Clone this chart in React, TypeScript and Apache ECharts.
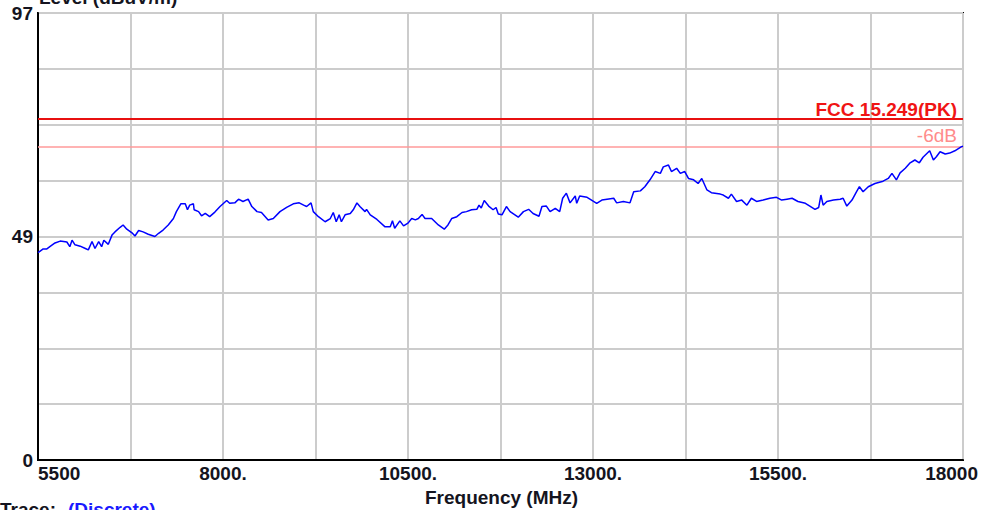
import React, { useEffect, useRef } from "react";
import * as echarts from "echarts";

const F_START = 5500;
const F_STOP = 18000;
const X_STEP = 1250;
const Y_MAX = 97;
const Y_STEP = 12.125;

const FREQ_MHZ = [
  5500, 5520, 5570, 5620, 5660, 5730, 5800, 5890, 5930, 5960,
  6000, 6070, 6140, 6180, 6230, 6270, 6320, 6360, 6390, 6450,
  6500, 6540, 6610, 6650, 6700, 6770, 6810, 6860, 6920, 6990,
  7080, 7130, 7190, 7260, 7330, 7370, 7430, 7490, 7520, 7550,
  7600, 7610, 7670, 7710, 7760, 7820, 7890, 7960, 8050, 8090,
  8160, 8210, 8270, 8340, 8390, 8460, 8520, 8610,
  8680, 8770, 8860, 8950, 9030, 9090, 9130, 9190, 9220, 9290,
  9380, 9450, 9490, 9530, 9570, 9600, 9650, 9720, 9760, 9810,
  9850, 9920, 9940, 9990, 10080, 10190, 10260, 10290, 10320, 10390,
  10440, 10500, 10550, 10600, 10640, 10690, 10730, 10820, 10910, 10990,
  11040, 11090, 11160, 11230, 11290, 11360, 11430, 11460, 11490, 11530,
  11590, 11650, 11690, 11720,
  11770, 11830, 11880, 11990, 12060, 12130, 12190, 12270, 12310, 12370,
  12420, 12490, 12550, 12590, 12640, 12690, 12760, 12780, 12820, 12920,
  12980, 13050, 13120, 13190, 13280, 13320, 13410, 13500, 13550, 13640,
  13700, 13770, 13840, 13910, 13950, 14020, 14060, 14130, 14180, 14240,
  14290, 14360, 14420, 14470, 14540, 14600, 14720, 14760, 14830,
  14870, 14940, 15010, 15080, 15140, 15210, 15300, 15390, 15480, 15550,
  15620, 15690, 15770, 15870, 15930, 16000, 16050, 16080, 16110, 16160,
  16250, 16340, 16380, 16430, 16500, 16560, 16600, 16650, 16720, 16810,
  16920, 16990, 17040, 17100, 17150, 17220, 17280, 17350, 17410, 17460,
  17550, 17600, 17640, 17690, 17760, 17820, 17890, 17980, 18000,
];

const LEVEL_DBUV = [
  45.0, 45.2, 45.8, 45.8, 46.3, 47.1, 47.5, 47.3, 46.3, 47.7,
  46.7, 46.4, 45.9, 45.6, 47.4, 45.9, 47.4, 46.3, 47.7, 46.8,
  48.8, 49.5, 50.5, 51.0, 50.1, 49.3, 48.6, 49.8, 49.5, 49.0,
  48.5, 49.2, 49.9, 51.0, 52.4, 53.9, 55.6, 55.6, 54.3, 55.3,
  55.6, 54.3, 53.9, 53.0, 53.5, 52.8, 53.8, 55.0, 56.3, 55.7,
  55.8, 56.6, 56.1, 56.6, 55.0, 53.9, 53.7, 52.1,
  52.4, 53.9, 54.8, 55.6, 55.8, 55.3, 55.0, 55.8, 53.9, 52.8,
  51.7, 52.4, 53.7, 51.7, 53.2, 51.7, 53.2, 53.5, 54.3, 55.8,
  55.0, 53.9, 54.4, 53.2, 52.2, 50.6, 50.6, 51.9, 50.3, 51.9,
  50.8, 51.4, 52.4, 52.1, 52.4, 53.3, 52.4, 52.4, 51.0, 50.1,
  51.0, 52.4, 52.8, 53.7, 53.9, 54.3, 54.4, 55.3, 54.7, 56.3,
  55.1, 54.3, 54.8, 53.4,
  53.2, 55.0, 53.9, 52.7, 53.9, 54.4, 53.5, 52.9, 55.0, 55.1,
  53.9, 54.6, 53.9, 56.8, 57.9, 55.8, 57.3, 55.7, 57.3, 57.0,
  56.4, 55.7, 56.4, 56.6, 56.8, 55.8, 56.1, 55.8, 58.2, 58.4,
  59.3, 60.8, 62.6, 62.2, 63.6, 64.0, 62.6, 63.3, 62.2, 62.6,
  61.1, 60.8, 60.0, 61.1, 58.6, 58.0, 57.7, 57.5, 56.8,
  57.7, 56.1, 56.4, 55.3, 56.8, 56.1, 56.4, 56.8, 57.0, 56.4,
  56.6, 56.8, 56.1, 55.7, 55.1, 54.4, 54.8, 57.5, 55.3, 56.1,
  56.4, 56.6, 56.8, 55.1, 56.4, 58.2, 59.3, 58.2, 59.3, 60.0,
  60.5, 61.1, 62.2, 60.8, 62.3, 63.3, 64.4, 65.1, 64.5, 65.7,
  67.1, 65.1, 65.8, 66.9, 66.4, 66.6, 67.1, 68.0, 68.1,
];

const LIMIT_NAMES = ["FCC 15.249(PK)", "-6dB"];
const LIMIT_VALUES = [74, 68];

const X_LABELS = ["5500", "8000.", "10500.", "13000.", "15500.", "18000"];
const Y_LABELS = ["0", "49", "97"];

const FONT = 'Arial, "Liberation Sans", sans-serif';
const TEXT_COLOR = "#141420";

export default function App() {
  const ref = useRef<HTMLDivElement>(null);

  useEffect(() => {
    if (!ref.current) return;
    const chart = echarts.init(ref.current, undefined, { renderer: "svg" });
    const data = FREQ_MHZ.map((f, i) => [f - F_START, LEVEL_DBUV[i]]);
    const lastIdx = X_LABELS.length - 1;

    chart.setOption({
      animation: false,
      backgroundColor: "#ffffff",
      grid: {
        left: 38,
        right: 20,
        top: 13,
        bottom: 50,
        show: true,
        borderColor: "#000000",
        borderWidth: 2,
        backgroundColor: "transparent",
      },
      xAxis: {
        type: "value",
        min: 0,
        max: F_STOP - F_START,
        interval: X_STEP,
        axisLine: { show: true, onZero: false, lineStyle: { color: "#000", width: 2 } },
        axisTick: { show: false },
        splitLine: { show: true, lineStyle: { color: "#cccccc", width: 2 } },
        axisLabel: {
          color: TEXT_COLOR,
          fontFamily: FONT,
          fontWeight: "bold",
          fontSize: 19,
          margin: 4,
          alignMinLabel: "left",
          alignMaxLabel: "right",
          showMinLabel: true,
          showMaxLabel: true,
          formatter: (v: number) => {
            const idx = Math.round(v / X_STEP);
            if (idx % 2 !== 0) return "";
            const k = idx / 2;
            if (k === lastIdx) return `{mx|${X_LABELS[k]}}`;
            return X_LABELS[k] ?? "";
          },
          rich: {
            mx: {
              color: TEXT_COLOR,
              fontFamily: FONT,
              fontWeight: "bold",
              fontSize: 19,
              padding: [0, -15, 0, 0],
            },
          },
        },
      },
      yAxis: {
        type: "value",
        min: 0,
        max: Y_MAX,
        interval: Y_STEP,
        axisLine: { show: true, lineStyle: { color: "#000", width: 2 } },
        axisTick: { show: false },
        splitLine: { show: true, lineStyle: { color: "#cccccc", width: 2 } },
        axisLabel: {
          color: TEXT_COLOR,
          fontFamily: FONT,
          fontWeight: "bold",
          fontSize: 19,
          margin: 5,
          showMinLabel: true,
          showMaxLabel: true,
          formatter: (v: number) => {
            const idx = Math.round(v / Y_STEP);
            if (idx % 4 !== 0) return "";
            return Y_LABELS[idx / 4] ?? "";
          },
        },
      },
      series: [
        {
          type: "line",
          data,
          showSymbol: false,
          symbol: "none",
          lineStyle: { color: "#0000ff", width: 1.5 },
          z: 5,
        },
        {
          type: "line",
          data: [],
          markLine: {
            silent: true,
            symbol: "none",
            data: [
              {
                yAxis: LIMIT_VALUES[0],
                lineStyle: { color: "#e81010", width: 2, type: "solid" },
                label: {
                  show: true,
                  position: "insideEndTop",
                  formatter: LIMIT_NAMES[0],
                  color: "#f01414",
                  fontFamily: FONT,
                  fontWeight: "bold",
                  fontSize: 19,
                  distance: [6, 0],
                },
              },
              {
                yAxis: LIMIT_VALUES[1],
                lineStyle: { color: "#ff9a9a", width: 1.5, type: "solid" },
                label: {
                  show: true,
                  position: "insideEndTop",
                  formatter: LIMIT_NAMES[1],
                  color: "#ff8c8c",
                  fontFamily: FONT,
                  fontWeight: "normal",
                  fontSize: 19,
                  distance: [6, 2],
                },
              },
            ],
          },
        },
      ],
      graphic: [
        {
          type: "text",
          left: 39,
          top: -12,
          style: {
            text: "Level (dBuV/m)",
            fill: TEXT_COLOR,
            font: `bold 19px ${FONT}`,
          },
        },
        {
          type: "text",
          left: 425,
          top: 488,
          style: {
            text: "Frequency (MHz)",
            fill: TEXT_COLOR,
            font: `bold 19px ${FONT}`,
          },
        },
        {
          type: "text",
          left: 0,
          top: 500,
          style: {
            text: "Trace:",
            fill: TEXT_COLOR,
            font: `bold 19px ${FONT}`,
          },
        },
        {
          type: "text",
          left: 68,
          top: 500,
          style: {
            text: "(Discrete)",
            fill: "#1a1aff",
            font: `bold 19px ${FONT}`,
          },
        },
      ],
    });

    return () => chart.dispose();
  }, []);

  return (
    <div
      ref={ref}
      style={{ position: "fixed", left: 0, top: 0, width: 983, height: 510 }}
    />
  );
}
